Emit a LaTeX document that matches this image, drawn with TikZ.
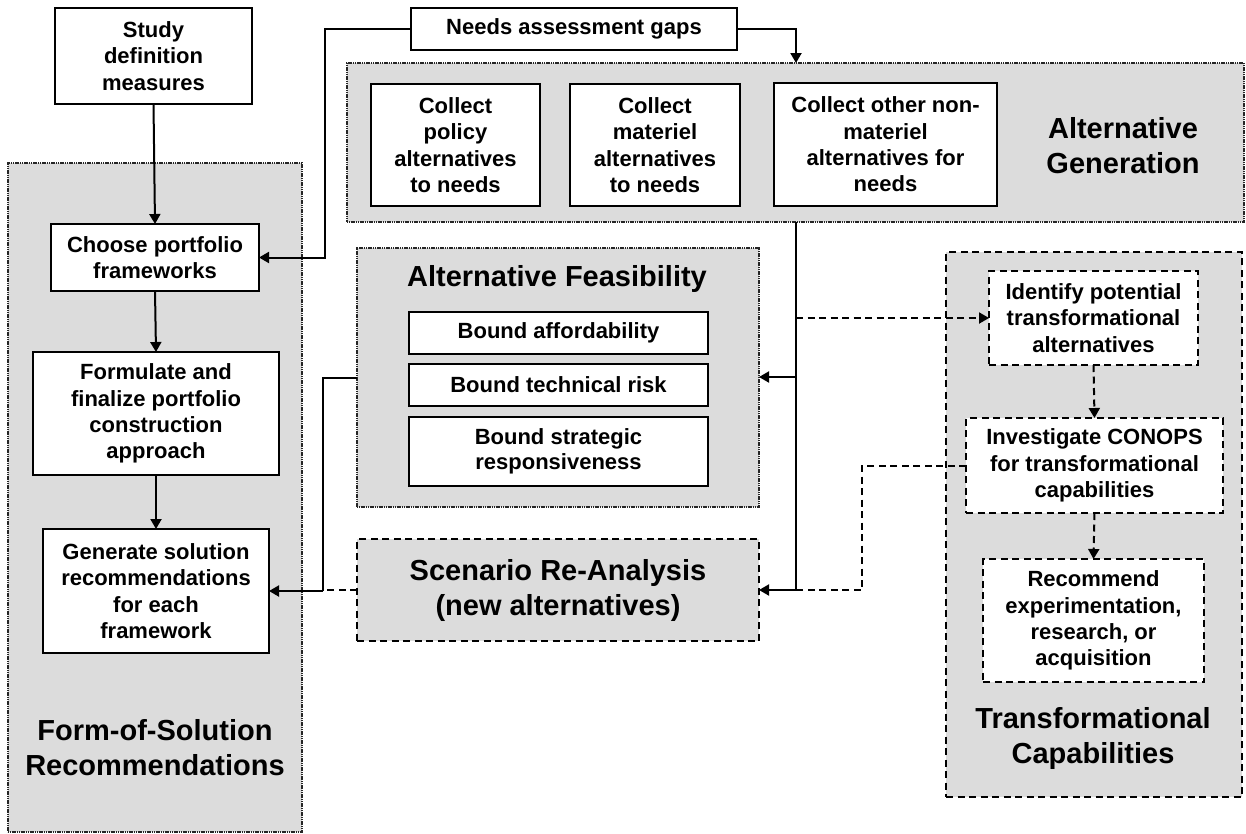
\documentclass[tikz,border=0pt]{standalone}
\usepackage{fontspec}
\setmainfont{Liberation Sans}
\usetikzlibrary{arrows.meta}
\definecolor{panelgray}{RGB}{220,220,220}
\begin{document}
\begin{tikzpicture}[x=1pt,y=-1pt,
  every node/.style={inner sep=0pt,outer sep=0pt,font=\bfseries\fontsize{22}{26.3}\selectfont,align=center},
  stepbox/.style={draw,line width=2pt,fill=white,anchor=north west},
  dashbox/.style={draw,line width=2pt,fill=white,anchor=north west,dash pattern=on 7pt off 4.5pt},
  panel/.style={draw=black!85,line width=1.6pt,dash pattern=on 1.2pt off 0.6pt,fill=panelgray,anchor=north west},
  dashpanel/.style={draw,line width=2pt,dash pattern=on 7pt off 4.5pt,fill=panelgray,anchor=north west},
  paneltitle/.style={font=\bfseries\fontsize{29}{35}\selectfont},
  link/.style={line width=2pt},
  flow/.style={line width=2pt,-{Triangle[length=10pt,width=11pt]}},
  dflow/.style={line width=2pt,dash pattern=on 7pt off 4.5pt,-{Triangle[length=10pt,width=11pt]}},
  dlink/.style={line width=2pt,dash pattern=on 7pt off 4.5pt},
]
\useasboundingbox (0,0) rectangle (1246,833);

% ---- panels ----
\node[panel,minimum width=294pt,minimum height=669pt] (fos) at (8,163) {};
\node[panel,minimum width=897pt,minimum height=159pt] (altgen) at (347,63) {};
\node[panel,minimum width=402pt,minimum height=259pt] (altfeas) at (357,248) {};
\node[dashpanel,minimum width=296pt,minimum height=545pt] (trans) at (946,252) {};
\node[dashpanel,minimum width=402pt,minimum height=102pt] (scen) at (357,539) {};

% ---- panel titles ----
\node[paneltitle] (fostitle) at (155,748) {Form-of-Solution\\Recommendations};
\node[paneltitle] (altgentitle) at (1123,146) {Alternative\\Generation};
\node[paneltitle] (altfeastitle) at (557,279) {Alternative Feasibility};
\node[paneltitle] (transtitle) at (1093,738) {Transformational\\Capabilities};
\node[paneltitle] (scentext) at (558,590) {Scenario Re-Analysis\\(new alternatives)};

% ---- left column ----
\node[stepbox,minimum width=197pt,minimum height=96pt] (study) at (55,8) {};
\node (studyt) at (study.center) {Study\\definition\\measures};
\node[stepbox,minimum width=208pt,minimum height=67pt] (choose) at (51,224) {};
\node at (choose.center) {Choose portfolio\\frameworks};
\node[stepbox,minimum width=246pt,minimum height=123pt] (form) at (33,352) {};
\node at (form.center) {Formulate and\\finalize portfolio\\construction\\approach};
\node[stepbox,minimum width=226pt,minimum height=124pt] (gen) at (43,529) {};
\node at (gen.center) {Generate solution\\recommendations\\for each\\framework};

% ---- generation row ----
\node[stepbox,minimum width=326pt,minimum height=42pt] (needs) at (411,8) {};
\node at (needs.center) {Needs assessment gaps};
\node[stepbox,minimum width=169pt,minimum height=122pt] (policy) at (371,84) {};
\node at (policy.center) {Collect\\policy\\alternatives\\to needs};
\node[stepbox,minimum width=170pt,minimum height=122pt] (materiel) at (570,84) {};
\node at (materiel.center) {Collect\\materiel\\alternatives\\to needs};
\node[stepbox,minimum width=223pt,minimum height=123pt] (other) at (774,83) {};
\node at (other.center) {Collect other non-\\materiel\\alternatives for\\needs};

% ---- feasibility ----
\node[stepbox,minimum width=299pt,minimum height=42pt] (afford) at (409,312) {};
\node at (afford.center) {Bound affordability};
\node[stepbox,minimum width=299pt,minimum height=42pt] (techrisk) at (409,364) {};
\node at (techrisk.center) {Bound technical risk};
\node[stepbox,minimum width=299pt,minimum height=69pt] (strat) at (409,417) {};
\node[font=\bfseries\fontsize{22}{25}\selectfont] at (strat.center) {Bound strategic\\responsiveness};

% ---- transformational ----
\node[dashbox,minimum width=209pt,minimum height=94pt] (ident) at (989,271) {};
\node at (ident.center) {Identify potential\\transformational\\alternatives};
\node[dashbox,minimum width=257pt,minimum height=95pt] (invest) at (966,418) {};
\node at (invest.center) {Investigate CONOPS\\for transformational\\capabilities};
\node[dashbox,minimum width=221pt,minimum height=123pt] (recom) at (983,559) {};
\node at (recom.center) {Recommend\\experimentation,\\research, or\\acquisition};

% ---- bend points ----
\coordinate (trunk) at (796,0);
\coordinate (leftbus) at (323,0);
\coordinate (needsbus) at (325,0);
\coordinate (dashbus) at (862,0);

% ---- connectors ----
\draw[flow] (study.south) -- (choose.north);
\draw[flow] (choose.south) -- (form.north);
\draw[flow] (form.south) -- (gen.north);

\draw[flow] (needs.west) -| (needsbus |- choose.east) -- (choose.east);
\draw[flow] (needs.east) -| (trunk |- altgen.north);

\draw[link] (trunk |- altgen.south) -- (trunk |- scen.east);
\draw[flow] (trunk |- scen.east) -- (scen.east);
\draw[flow] (trunk |- 0,377) -- (altfeas.east |- 0,377);
\draw[dflow] (trunk |- ident.west) -- (ident.west);

\draw[link] (altfeas.west |- 0,378) -| (leftbus |- gen.east);
\draw[flow] (leftbus |- gen.east) -- (gen.east);
\draw[dlink] (scen.west) -- (leftbus |- scen.west);

\draw[dflow] (ident.south) -- (invest.north);
\draw[dflow] (invest.south) -- (recom.north);
\draw[dlink] (invest.west) -| (dashbus |- scen.east) -- (trunk |- scen.east);
\end{tikzpicture}
\end{document}
